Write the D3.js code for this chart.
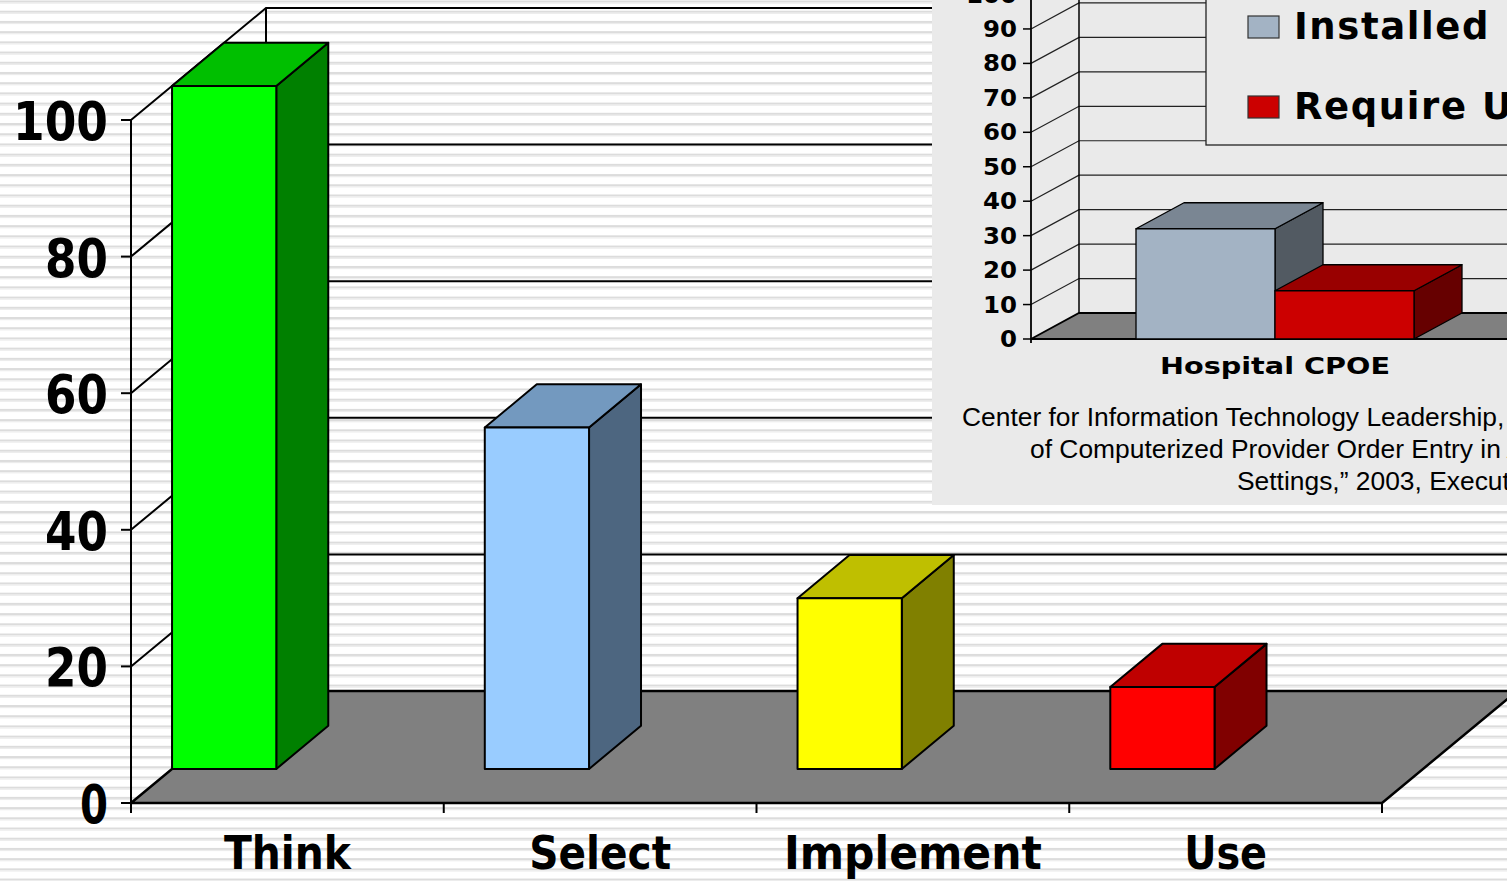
<!DOCTYPE html>
<html>
<head>
<meta charset="utf-8">
<style>
  body { margin: 0; background: #fff; overflow: hidden; }
  svg { display: block; }
  .bold { font-family: "DejaVu Sans", Verdana, sans-serif; font-weight: bold; fill: #000; }
  .src { font-family: "Liberation Sans", Arial, sans-serif; fill: #000; }
</style>
</head>
<body>
<div id="chart"></div>
<script src="https://cdn.jsdelivr.net/npm/d3@7/dist/d3.min.js"></script>
<script>
// main chart data
const stages = ["Think", "Select", "Implement", "Use"];
const stageValues = [100, 50, 25, 12];
const stageColors = ["#00ff00", "#99ccff", "#ffff00", "#ff0000"];
const yTicks = [0, 20, 40, 60, 80, 100];

// inset chart data
const cpoeCategory = ["Hospital CPOE"];
const cpoeSeries = ["Installed", "Require Upgrade"];
const cpoeValues = [32, 14];
const cpoeColors = ["#a3b3c4", "#cc0000"];
const cpoeTicks = [0, 10, 20, 30, 40, 50, 60, 70, 80, 90, 100];
const sourceLines = [
  "Center for Information Technology Leadership, \u201cThe Value",
  "of Computerized Provider Order Entry in Ambulatory",
  "Settings,\u201d 2003, Executive Summary"
];

const W = 1507, H = 881;

const shade = (c, f) => {
  const r = d3.rgb(c);
  return d3.rgb(r.r * f, r.g * f, r.b * f).formatHex();
};

const svg = d3.select("#chart").append("svg")
  .attr("width", W).attr("height", H);

// striped slide background
const stripes = svg.append("g");
stripes.selectAll("rect.a").data(d3.range(0.5, H, 10.21)).join("rect")
  .attr("class", "a")
  .attr("x", 0).attr("y", d => d).attr("width", W).attr("height", 2)
  .attr("fill", "#dcdcdc");
stripes.selectAll("rect.b").data(d3.range(0.5, H, 10.21)).join("rect")
  .attr("class", "b")
  .attr("x", 0).attr("y", d => d + 2).attr("width", W).attr("height", 1.2)
  .attr("fill", "#ececec");

// ---------- main 3d column chart ----------
const x = d3.scaleBand().domain(stages).range([131, 1382]);
const y = d3.scaleLinear().domain([0, 100]).range([803, 120]);
const depth = [135, -112];
const f1 = 0.304, f2 = 0.689;   // bar front / back position inside the depth

const main = svg.append("g");

// wall gridlines
main.selectAll("path.grid").data(yTicks.filter(t => t > 0)).join("path")
  .attr("class", "grid")
  .attr("d", t => `M${x.range()[0]},${y(t)} L${x.range()[0] + depth[0]},${y(t) + depth[1]} L${W + 20},${y(t) + depth[1]}`)
  .attr("fill", "none").attr("stroke", "#000").attr("stroke-width", 2);

main.append("line")
  .attr("x1", x.range()[0] + depth[0]).attr("x2", x.range()[0] + depth[0])
  .attr("y1", y(100) + depth[1]).attr("y2", y(0) + depth[1])
  .attr("stroke", "#000").attr("stroke-width", 2);

// floor
const x0 = x.range()[0], x1 = x.range()[1];
main.append("path")
  .attr("d", `M${x0},${y(0)} L${x0 + depth[0]},${y(0) + depth[1]} L${x1 + depth[0]},${y(0) + depth[1]} L${x1},${y(0)} Z`)
  .attr("fill", "#808080").attr("stroke", "#000").attr("stroke-width", 2.5)
  .attr("stroke-linejoin", "round");

// axis lines and ticks
main.append("line")
  .attr("x1", x0).attr("x2", x0).attr("y1", y(100)).attr("y2", y(0))
  .attr("stroke", "#000").attr("stroke-width", 2);
main.selectAll("line.ytick").data(yTicks).join("line")
  .attr("class", "ytick")
  .attr("x1", x0 - 10).attr("x2", x0).attr("y1", d => y(d)).attr("y2", d => y(d))
  .attr("stroke", "#000").attr("stroke-width", 2);
const xTickPos = stages.map(s => x(s)).concat([x1]);
main.selectAll("line.xtick").data(xTickPos).join("line")
  .attr("class", "xtick")
  .attr("x1", d => d).attr("x2", d => d).attr("y1", y(0)).attr("y2", y(0) + 10)
  .attr("stroke", "#000").attr("stroke-width", 2);

// bars
const bw = x.bandwidth() / 3;
const dd = [depth[0] * (f2 - f1), depth[1] * (f2 - f1)];
stages.forEach((s, i) => {
  const bx = x(s) + depth[0] * f1;
  const yb = y(0) + depth[1] * f1;
  const yt = yb - (y(0) - y(stageValues[i]));
  const c = stageColors[i];
  const g = main.append("g").attr("stroke", "#000").attr("stroke-width", 2).attr("stroke-linejoin", "round");
  g.append("path")
    .attr("d", `M${bx + bw},${yt} L${bx + bw + dd[0]},${yt + dd[1]} L${bx + bw + dd[0]},${yb + dd[1]} L${bx + bw},${yb} Z`)
    .attr("fill", shade(c, 0.5));
  g.append("path")
    .attr("d", `M${bx},${yt} L${bx + dd[0]},${yt + dd[1]} L${bx + bw + dd[0]},${yt + dd[1]} L${bx + bw},${yt} Z`)
    .attr("fill", shade(c, 0.75));
  g.append("rect")
    .attr("x", bx).attr("y", yt).attr("width", bw).attr("height", yb - yt)
    .attr("fill", c);
});

// labels
const yLabelWidth = { 1: 28, 2: 63, 3: 95 };
main.selectAll("text.ylab").data(yTicks).join("text")
  .attr("class", "ylab bold")
  .attr("x", 108).attr("y", d => y(d) + 20)
  .attr("text-anchor", "end")
  .attr("font-size", 54)
  .attr("textLength", d => yLabelWidth[String(d).length])
  .attr("lengthAdjust", "spacingAndGlyphs")
  .text(d => d);

const xLabelWidth = [127, 142, 258, 83];
main.selectAll("text.xlab").data(stages).join("text")
  .attr("class", "xlab bold")
  .attr("x", d => x(d) + x.bandwidth() / 2).attr("y", 869)
  .attr("text-anchor", "middle")
  .attr("font-size", 47)
  .attr("textLength", (d, i) => xLabelWidth[i])
  .attr("lengthAdjust", "spacingAndGlyphs")
  .text(d => d);

// ---------- inset chart ----------
const inset = svg.append("g");
inset.append("rect")
  .attr("x", 932).attr("y", 0).attr("width", W - 932).attr("height", 505)
  .attr("fill", "#eaeaea");

const xi = d3.scaleBand().domain(cpoeCategory).range([1031, 1519]);
const yi = d3.scaleLinear().domain([0, 100]).range([339, -5.5]);
const di = [48, -26];

inset.selectAll("path.grid").data(cpoeTicks.filter(t => t > 0)).join("path")
  .attr("class", "grid")
  .attr("d", t => `M${xi.range()[0]},${yi(t)} L${xi.range()[0] + di[0]},${yi(t) + di[1]} L${W + 20},${yi(t) + di[1]}`)
  .attr("fill", "none").attr("stroke", "#222").attr("stroke-width", 1.2);
inset.append("line")
  .attr("x1", xi.range()[0] + di[0]).attr("x2", xi.range()[0] + di[0])
  .attr("y1", yi(100) + di[1]).attr("y2", yi(0) + di[1])
  .attr("stroke", "#000").attr("stroke-width", 1.5);

const xi0 = xi.range()[0], xi1 = xi.range()[1];
inset.append("path")
  .attr("d", `M${xi0},${yi(0)} L${xi0 + di[0]},${yi(0) + di[1]} L${xi1 + di[0]},${yi(0) + di[1]} L${xi1},${yi(0)} Z`)
  .attr("fill", "#808080").attr("stroke", "#000").attr("stroke-width", 1.8);

inset.append("line")
  .attr("x1", xi0).attr("x2", xi0).attr("y1", yi(100)).attr("y2", yi(0) + 4)
  .attr("stroke", "#000").attr("stroke-width", 1.8);
inset.selectAll("line.ytick").data(cpoeTicks).join("line")
  .attr("class", "ytick")
  .attr("x1", xi0 - 8).attr("x2", xi0).attr("y1", d => yi(d)).attr("y2", d => yi(d))
  .attr("stroke", "#000").attr("stroke-width", 1.5);
inset.selectAll("text.ylab").data(cpoeTicks).join("text")
  .attr("class", "ylab bold")
  .attr("x", 1017).attr("y", d => yi(d) + 8)
  .attr("text-anchor", "end")
  .attr("font-size", 22.5)
  .attr("textLength", d => String(d).length * 17)
  .attr("lengthAdjust", "spacingAndGlyphs")
  .text(d => d);

const center = xi(cpoeCategory[0]) + xi.bandwidth() / 2;
const xs = d3.scaleBand().domain(cpoeSeries).range([center - 139, center + 139]);
cpoeSeries.forEach((s, i) => {
  const bx = xs(s), w = xs.bandwidth();
  const yb = yi(0), yt = yi(cpoeValues[i]);
  const c = cpoeColors[i];
  const g = inset.append("g").attr("stroke", "#000").attr("stroke-width", 1.3).attr("stroke-linejoin", "round");
  g.append("path")
    .attr("d", `M${bx + w},${yt} L${bx + w + di[0]},${yt + di[1]} L${bx + w + di[0]},${yb + di[1]} L${bx + w},${yb} Z`)
    .attr("fill", shade(c, 0.5));
  g.append("path")
    .attr("d", `M${bx},${yt} L${bx + di[0]},${yt + di[1]} L${bx + w + di[0]},${yt + di[1]} L${bx + w},${yt} Z`)
    .attr("fill", shade(c, 0.75));
  g.append("rect")
    .attr("x", bx).attr("y", yt).attr("width", w).attr("height", yb - yt)
    .attr("fill", c);
});

inset.append("text")
  .attr("class", "bold")
  .attr("x", center).attr("y", 374)
  .attr("text-anchor", "middle")
  .attr("font-size", 23)
  .attr("textLength", 230)
  .attr("lengthAdjust", "spacingAndGlyphs")
  .text(cpoeCategory[0]);

// legend
const legend = inset.append("g");
legend.append("rect")
  .attr("x", 1206).attr("y", -5).attr("width", 400).attr("height", 150)
  .attr("fill", "#eaeaea").attr("stroke", "#222").attr("stroke-width", 1.3);
const legY = [16, 96];
cpoeSeries.forEach((s, i) => {
  legend.append("rect")
    .attr("x", 1248).attr("y", legY[i]).attr("width", 31).attr("height", 22)
    .attr("fill", cpoeColors[i]).attr("stroke", "#333").attr("stroke-width", 1.2);
  legend.append("text")
    .attr("class", "bold")
    .attr("x", 1294).attr("y", legY[i] + 23)
    .attr("font-size", 37)
    .attr("letter-spacing", 1.6)
    .text(s);
});

// source note
inset.selectAll("text.src").data(sourceLines).join("text")
  .attr("class", "src")
  .attr("x", (d, i) => [962, 1030, 1237][i])
  .attr("y", (d, i) => 426 + i * 32)
  .attr("font-size", 26.4)
  .text(d => d);
</script>
</body>
</html>
